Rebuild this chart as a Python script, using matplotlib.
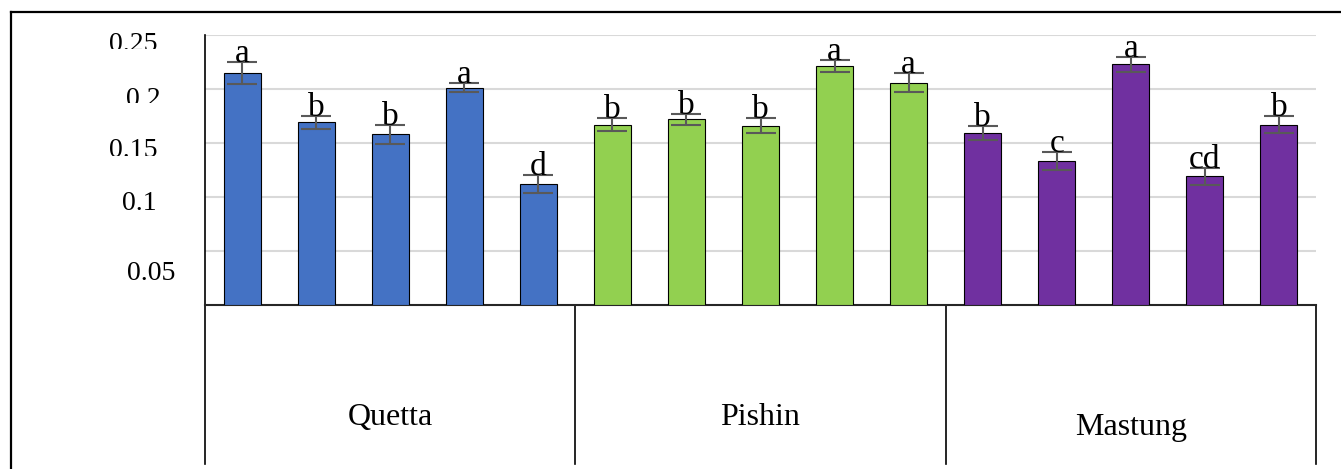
import matplotlib
matplotlib.use("Agg")
import matplotlib.pyplot as plt
from matplotlib.lines import Line2D
from matplotlib.transforms import Bbox, TransformedBbox, blended_transform_factory
import numpy as np

plt.rcParams['font.family'] = ['Liberation Serif', 'DejaVu Serif']

# ---- data ----
locations = ["Quetta", "Pishin", "Mastung"]
quetta_vals = [0.215, 0.169, 0.158, 0.201, 0.112]
quetta_err = [0.0100, 0.0056, 0.0088, 0.0042, 0.0083]
quetta_letters = ["a", "b", "b", "a", "d"]
pishin_vals = [0.167, 0.172, 0.166, 0.221, 0.206]
pishin_err = [0.0058, 0.0050, 0.0068, 0.0056, 0.0088]
pishin_letters = ["b", "b", "b", "a", "a"]
mastung_vals = [0.159, 0.133, 0.223, 0.119, 0.167]
mastung_err = [0.0065, 0.0083, 0.0070, 0.0083, 0.0082]
mastung_letters = ["b", "c", "a", "cd", "b"]
colors = ["#4472C4", "#92D050", "#7030A0"]
ytick_values = [0.05, 0.1, 0.15, 0.2, 0.25]
ytick_labels = ["0.05", "0.1", "0.15", "0.2", "0.25"]

groups_vals = [quetta_vals, pishin_vals, mastung_vals]
groups_err = [quetta_err, pishin_err, mastung_err]
groups_letters = [quetta_letters, pishin_letters, mastung_letters]

W, H = 1341, 469
fig = plt.figure(figsize=(W / 100, H / 100), dpi=100)

ax = fig.add_axes([205 / W, 1 - 305 / H, (1316 - 205) / W, 270 / H])
ax.set_xlim(-0.5, 14.5)
ax.set_ylim(0, 0.25)

n = len(quetta_vals)
for g in range(3):
    x = np.arange(n) + g * n
    ax.bar(x, groups_vals[g], width=0.5, color=colors[g], edgecolor='black',
           linewidth=0.8, zorder=3)
    ax.errorbar(x, groups_vals[g], yerr=groups_err[g], fmt='none',
                ecolor='#595959', elinewidth=1.5, capsize=10.5, capthick=1.5,
                zorder=4)
    for xi, v, e, lab in zip(x, groups_vals[g], groups_err[g], groups_letters[g]):
        ax.text(xi, v + e, lab, ha='center', va='baseline', fontsize=24,
                color='black', zorder=5)

# grid
ax.set_yticks(ytick_values)
ax.set_yticklabels([])
ax.tick_params(axis='y', length=0)
ax.set_xticks([])
ax.yaxis.grid(True, color='#D9D9D9', linewidth=1.5, zorder=0)
ax.set_axisbelow(True)
for s in ['top', 'right']:
    ax.spines[s].set_visible(False)
ax.spines['left'].set_color('black')
ax.spines['left'].set_linewidth(1.2)
ax.spines['bottom'].set_color('#262626')
ax.spines['bottom'].set_linewidth(1.5)

# category axis separators and labels
trans = blended_transform_factory(ax.transData, ax.transAxes)
for b in [-0.5, 4.5, 9.5, 14.5]:
    ax.plot([b, b], [0, -0.59], transform=trans, color='black', lw=1.2,
            clip_on=False)
label_y = [-0.444, -0.444, -0.481]
for g, name in enumerate(locations):
    ax.text(g * n + (n - 1) / 2, label_y[g], name, transform=trans,
            ha='center', va='baseline', fontsize=23)

# y tick labels (placed as in the original, slightly offset)
tick_right = [175, 157, 157, 161, 157]
tick_base = [280, 210, 157, 106, 51]
tick_clip = [None, None, 156, 103, 49]
for lab, xr, yb, clip in zip(ytick_labels, tick_right, tick_base, tick_clip):
    t = fig.text(xr / W, 1 - yb / H, lab, ha='right', va='baseline', fontsize=20)
    if clip is not None:
        bb = TransformedBbox(Bbox.from_extents(0, 1 - clip / H, 1, 1), fig.transFigure)
        t.set_clip_box(bb)
        t.set_clip_on(True)

# outer frame
fig.add_artist(Line2D([11 / W, 1], [1 - 12 / H, 1 - 12 / H], color='black', lw=1.6))
fig.add_artist(Line2D([11 / W, 11 / W], [1 - 12 / H, 0], color='black', lw=1.6))

fig.savefig("out.png", dpi=100)
